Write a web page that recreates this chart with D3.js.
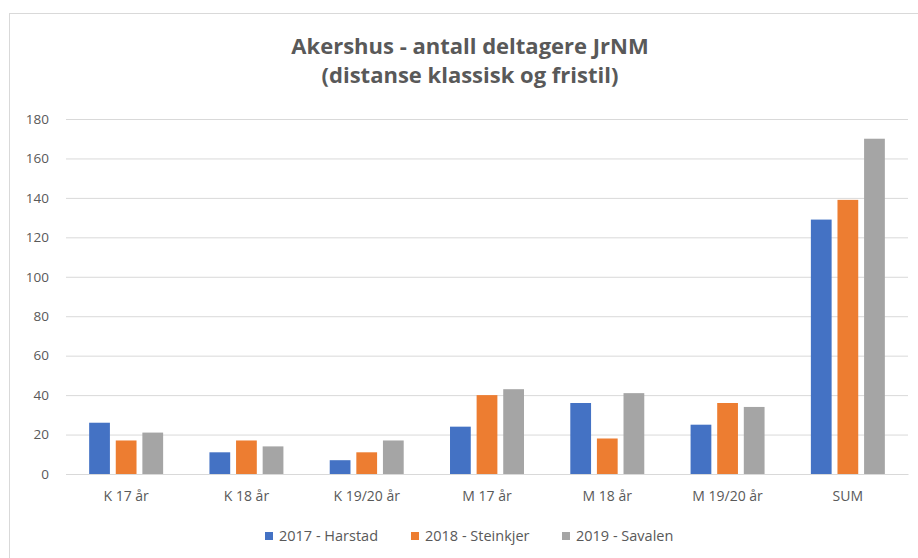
<!DOCTYPE html>
<html>
<head>
<meta charset="utf-8">
<script src="https://cdn.jsdelivr.net/npm/d3@7"></script>
<style>
  body { margin: 0; background: #fff; }
  text { font-family: "Open Sans", "Noto Sans", sans-serif; fill: #595959; }
</style>
</head>
<body>
<div id="chart"></div>
<script>
// categories and series
var categories = ["K 17 år", "K 18 år", "K 19/20 år", "M 17 år", "M 18 år", "M 19/20 år", "SUM"];
var seriesNames = ["2017 - Harstad", "2018 - Steinkjer", "2019 - Savalen"];
var harstad = [26, 11, 7, 24, 36, 25, 129];
var steinkjer = [17, 17, 11, 40, 18, 36, 139];
var savalen = [21, 14, 17, 43, 41, 34, 170];
var yTicks = [0, 20, 40, 60, 80, 100, 120, 140, 160, 180];
var colors = ["#4472c4", "#ed7d31", "#a5a5a5"];

var seriesValues = [harstad, steinkjer, savalen];

var svgWidth = 918, svgHeight = 558;
var margin = {top: 119, right: 10, bottom: 84, left: 66};
var chartWidth = 908 - margin.left;
var chartHeight = 474 - margin.top;

var svg = d3.select("#chart").append("svg")
  .attr("width", svgWidth)
  .attr("height", svgHeight);

// chart border
svg.append("rect")
  .attr("x", 9.5).attr("y", 13.5)
  .attr("width", 930).attr("height", 560)
  .attr("fill", "none")
  .attr("stroke", "#d9d9d9");

// title
var title = svg.append("text")
  .attr("x", 470).attr("y", 54)
  .attr("text-anchor", "middle")
  .style("font-size", "22px")
  .style("font-weight", "bold");
title.append("tspan").attr("x", 470).text("Akershus - antall deltagere JrNM");
title.append("tspan").attr("x", 470).attr("dy", 29).text("(distanse klassisk og fristil)");

var chartGroup = svg.append("g")
  .attr("transform", `translate(${margin.left}, ${margin.top})`);

var yScale = d3.scaleLinear()
  .domain([0, 180])
  .range([chartHeight, 0]);

var xScale = d3.scaleBand()
  .domain(categories)
  .range([0, chartWidth])
  .paddingInner(0.385)
  .paddingOuter(0.1925);

var x1 = d3.scaleBand()
  .domain(d3.range(seriesNames.length))
  .range([0, xScale.bandwidth()])
  .paddingInner(0.22);

// gridlines
var yAxis = d3.axisLeft(yScale)
  .tickValues(yTicks)
  .tickSize(-chartWidth)
  .tickPadding(17);

var yG = chartGroup.append("g").call(yAxis);
yG.select(".domain").remove();
yG.selectAll(".tick line").attr("stroke", "#d9d9d9");
yG.selectAll(".tick text").style("font-size", "13.5px");

// bars
seriesValues.forEach(function(vals, s) {
  chartGroup.append("g")
    .selectAll("rect")
    .data(vals)
    .enter()
    .append("rect")
    .attr("x", (d, i) => xScale(categories[i]) + x1(s))
    .attr("y", d => yScale(d))
    .attr("width", x1.bandwidth())
    .attr("height", d => chartHeight - yScale(d))
    .attr("fill", colors[s]);
});

// x axis
var xAxis = d3.axisBottom(xScale).tickSize(0).tickPadding(17);
var xG = chartGroup.append("g")
  .attr("transform", `translate(0, ${chartHeight})`)
  .call(xAxis);
xG.select(".domain").attr("stroke", "#d9d9d9");
xG.selectAll(".tick text").style("font-size", "14px");

// legend
var legendX = [265, 411, 562];
var legend = svg.append("g");
seriesNames.forEach(function(name, s) {
  var item = legend.append("g").attr("transform", `translate(${legendX[s]}, 536)`);
  item.append("rect")
    .attr("x", 0).attr("y", -4)
    .attr("width", 8).attr("height", 8)
    .attr("fill", colors[s]);
  item.append("text")
    .attr("x", 14).attr("y", 5)
    .style("font-size", "14.5px")
    .text(name);
});
</script>
</body>
</html>
